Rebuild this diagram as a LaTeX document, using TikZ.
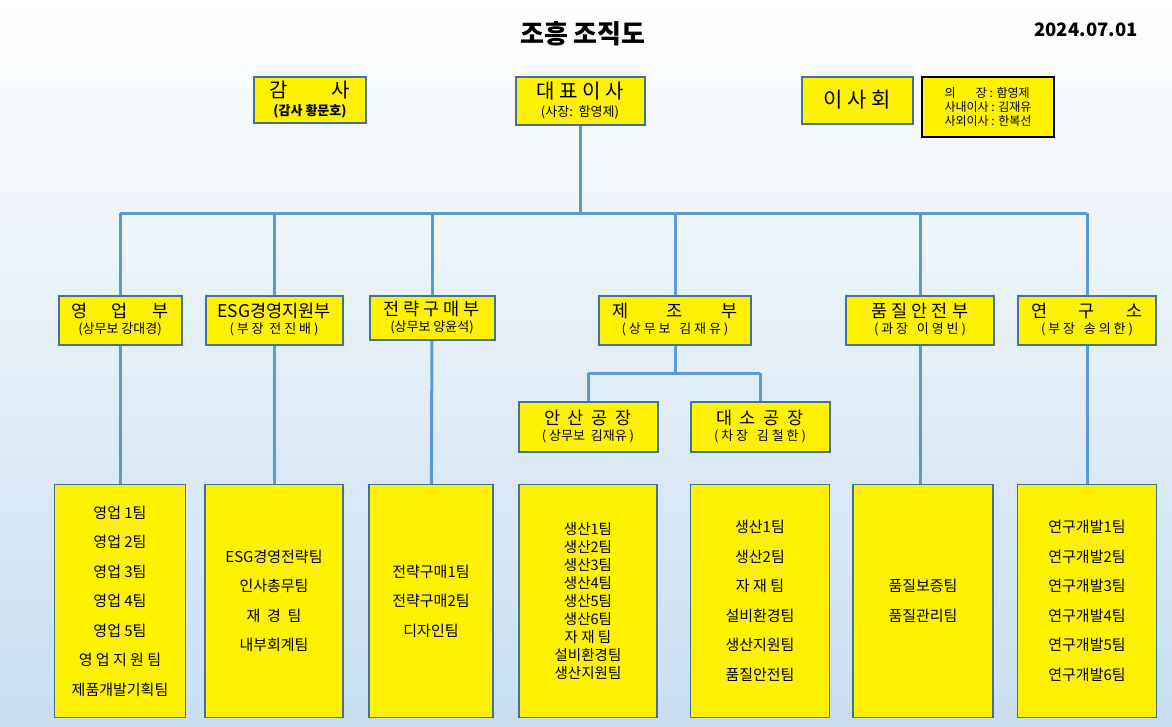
\documentclass[tikz,border=0pt]{standalone}
\usepackage{fontspec}
\setmainfont{Noto Sans CJK KR}
\definecolor{steel}{RGB}{91,155,213}
\definecolor{edgeblue}{RGB}{65,113,156}
\definecolor{skybg}{RGB}{200,222,240}
\begin{document}
\begin{tikzpicture}[x=1pt,y=-1pt]

\tikzstyle{unit}=[fill=yellow, draw=edgeblue, line width=2pt, inner sep=0pt, align=center, font=\fontsize{17.5}{19}\selectfont]
\tikzstyle{team}=[fill=yellow, draw=edgeblue, line width=1.5pt, inner sep=0pt, align=center, font=\fontsize{15}{29.5}\selectfont]
\tikzstyle{link}=[line width=3pt, draw=steel]
\newcommand{\sub}[1]{\\[-3pt]{\fontsize{13}{14}\selectfont #1}}

\shade[top color=white, bottom color=skybg] (0,0) rectangle (1172,726);
\useasboundingbox (0,0) rectangle (1172,726);

\node[font=\fontsize{26}{28}\selectfont\bfseries] (title) at (583,34) {조흥 조직도};
\node[font=\fontsize{18.5}{20}\selectfont\bfseries] (date) at (1086,30) {2024.07.01};

% top
\node[unit, minimum width=112, minimum height=46, font=\fontsize{20}{21}\selectfont] (audit) at (310,100) {감\hspace{2.2em}사\sub{\bfseries(감사 황문호)}};
\node[unit, minimum width=129, minimum height=48, font=\fontsize{20}{21}\selectfont] (ceo) at (580,101) {대 표 이 사\sub{(사장:\ \ 함영제)}};
\node[unit, minimum width=111, minimum height=47, font=\fontsize{21}{22}\selectfont] (board) at (857,100) {이 사 회};
\node[fill=yellow, draw=black, line width=2pt, minimum width=132, minimum height=60, align=left, font=\fontsize{12}{14}\selectfont] (member) at (988,107) {의\hspace{1.7em}장 : 함영제\\사내이사 : 김재유\\사외이사 : 한복선};

% departments
\node[unit, minimum width=123, minimum height=49] (sales) at (120,320) {영\hspace{1.4em}업\hspace{1.4em}부\sub{(상무보 강대경)}};
\node[unit, minimum width=137, minimum height=49] (esg) at (274,320) {ESG경영지원부\sub{( 부 장\ \ 전 진 배 )}};
\node[unit, minimum width=125, minimum height=44] (buy) at (432,318) {전 략 구 매 부\sub{(상무보 양윤석)}};
\node[unit, minimum width=152, minimum height=49] (mfg) at (675,320) {제\hspace{2.2em}조\hspace{2.2em}부\sub{( 상 무 보\ \ \ 김 재 유 )}};
\node[unit, minimum width=148, minimum height=49] (qa) at (920,320) {품 질 안 전 부\sub{( 과 장\ \ \ 이 영 빈 )}};
\node[unit, minimum width=138, minimum height=49] (lab) at (1087,320) {연\hspace{1.8em}구\hspace{1.8em}소\sub{( 부 장\ \ \ 송 의 한 )}};

% factories
\node[unit, minimum width=139, minimum height=50] (ansan) at (588,427) {안\ \ 산\ \ 공\ \ 장\sub{( 상무보\ \ 김재유 )}};
\node[unit, minimum width=139, minimum height=50] (daeso) at (760,427) {대\ \ 소\ \ 공\ \ 장\sub{( 차 장\ \ \ 김 철 한 )}};

% teams
\node[team, minimum width=131, minimum height=233] (t1) at (120,601) {영업 1팀\\영업 2팀\\영업 3팀\\영업 4팀\\영업 5팀\\영 업 지 원 팀\\제품개발기획팀};
\node[team, minimum width=138, minimum height=233] (t2) at (274,601) {ESG경영전략팀\\인사총무팀\\재\ \ 경\ \ 팀\\내부회계팀};
\node[team, minimum width=124, minimum height=233] (t3) at (431,601) {전략구매1팀\\전략구매2팀\\디자인팀};
\node[team, minimum width=138, minimum height=233, font=\fontsize{14.5}{18}\selectfont] (t4) at (588,601) {생산1팀\\생산2팀\\생산3팀\\생산4팀\\생산5팀\\생산6팀\\자 재 팀\\설비환경팀\\생산지원팀};
\node[team, minimum width=139, minimum height=233] (t5) at (760,601) {생산1팀\\생산2팀\\자 재 팀\\설비환경팀\\생산지원팀\\품질안전팀};
\node[team, minimum width=140, minimum height=233] (t6) at (923,601) {품질보증팀\\품질관리팀};
\node[team, minimum width=139, minimum height=233] (t7) at (1087,601) {연구개발1팀\\연구개발2팀\\연구개발3팀\\연구개발4팀\\연구개발5팀\\연구개발6팀};

% connectors
\coordinate (hub) at (580,213);
\coordinate (split) at (675,373);
\draw[link] (ceo) -- (hub);
\draw[link] (sales.north |- hub) -- (lab.north |- hub);
\foreach \d in {sales,esg,buy,mfg,qa,lab}
  \draw[link] (\d.north |- hub) -- (\d.north);
\draw[link] (mfg) -- (split);
\draw[link] (ansan.north |- split) -- (daeso.north |- split);
\draw[link] (ansan.north |- split) -- (ansan.north);
\draw[link] (daeso.north |- split) -- (daeso.north);
\draw[link] (sales) -- (t1);
\draw[link] (esg) -- (t2);
\draw[link] (buy) -- (t3);
\draw[link] (qa.south) -- (t6.north -| qa.south);
\draw[link] (lab) -- (t7);

\end{tikzpicture}
\end{document}
